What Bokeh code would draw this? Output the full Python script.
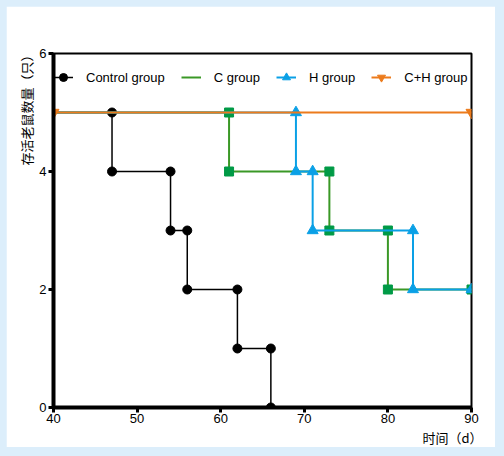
from bokeh.plotting import figure
from bokeh.models import Range1d, FixedTicker, Legend, LegendItem, Title
from bokeh.embed import file_html
from bokeh.resources import INLINE

# Data (survival counts over time, days)
control_t = [40, 47, 54, 56, 62, 66]
control_n = [5, 4, 3, 2, 1, 0]
c_t = [40, 61, 73, 80, 90]
c_n = [5, 4, 3, 2, 2]
h_t = [40, 69, 71, 83, 90]
h_n = [5, 4, 3, 2, 2]
ch_t = [40, 90]
ch_n = [5, 5]

x_ticks = [40, 50, 60, 70, 80, 90]
y_ticks = [0, 2, 4, 6]
labels = ["Control group", "C group", "H group", "C+H group"]
x_title = "时间（d）"
y_title = "存活老鼠数量（只）"


def corners(t, n):
    xs, ys = [], []
    for i in range(1, len(t)):
        if n[i] != n[i - 1]:
            xs += [t[i], t[i]]
            ys += [n[i - 1], n[i]]
        else:
            xs.append(t[i])
            ys.append(n[i])
    return xs, ys


p = figure(width=489, height=441, output_backend="svg", toolbar_location=None,
           x_range=Range1d(40, 90), y_range=Range1d(0, 6),
           min_border_left=47, min_border_right=24, min_border_top=47, min_border_bottom=40)
p.background_fill_color = "white"
p.border_fill_color = "white"
p.grid.visible = False
p.outline_line_color = "black"
p.outline_line_width = 2

for ax in (p.xaxis[0], p.yaxis[0]):
    ax.axis_line_width = 4
    ax.axis_line_color = "black"
    ax.major_tick_line_width = 3
    ax.major_tick_in = 0
    ax.major_tick_out = 5
    ax.minor_tick_line_color = None
    ax.major_label_text_font = "Liberation Sans"
    ax.major_label_text_font_size = "13px"
    ax.major_label_text_color = "black"
p.xaxis[0].ticker = FixedTicker(ticks=x_ticks)
p.yaxis[0].ticker = FixedTicker(ticks=y_ticks)
p.xaxis[0].major_label_standoff = 1
p.yaxis[0].major_label_standoff = 2

BLACK = "black"
GREEN_L = "#3a9826"
GREEN_M = "#009a46"
BLUE = "#0aa0e6"
ORANGE = "#ec7b1c"

# Control
l0 = p.step(control_t, control_n, mode="after", line_color=BLACK, line_width=1.5)
cx, cy = corners(control_t, control_n)
m0 = p.scatter(cx, cy, marker="circle", size=9, fill_color=BLACK, line_color=BLACK)

# C group
l1 = p.step(c_t, c_n, mode="after", line_color=GREEN_L, line_width=2)
gx, gy = corners(c_t, c_n)
m1 = p.scatter(gx, gy, marker="square", size=9, fill_color=GREEN_M, line_color=GREEN_M)

# H group
l2 = p.step(h_t, h_n, mode="after", line_color=BLUE, line_width=2)
hx, hy = corners(h_t, h_n)
m2 = p.scatter(hx, hy, marker="triangle", size=11, fill_color=BLUE, line_color=BLUE)

# C+H group
l3 = p.step(ch_t, ch_n, mode="after", line_color=ORANGE, line_width=2)
m3 = p.scatter(ch_t, ch_n, marker="inverted_triangle", size=11, fill_color=ORANGE, line_color=ORANGE)

legend = Legend(items=[
    LegendItem(label=labels[0], renderers=[l0, m0]),
    LegendItem(label=labels[1], renderers=[l1]),
    LegendItem(label=labels[2], renderers=[l2, m2]),
    LegendItem(label=labels[3], renderers=[l3, m3]),
], orientation="horizontal", location="top_left",
    margin=0, padding=9, spacing=16, glyph_width=20, glyph_height=48,
    label_height=48, label_standoff=13,
    label_text_font="Liberation Sans", label_text_font_size="13px",
    label_text_color="black",
    background_fill_alpha=0, border_line_color=None)
p.add_layout(legend, "center")

p.add_layout(Title(text=x_title, align="right", offset=-11, standoff=1,
                   text_font="Noto Sans CJK SC", text_font_size="13px",
                   text_font_style="normal", text_color="black"), "below")
p.add_layout(Title(text=y_title, align="right", offset=-5, standoff=1,
                   text_font="Noto Sans CJK SC", text_font_size="13px",
                   text_font_style="normal", text_color="black"), "left")

html = file_html(p, INLINE)
html = html.replace("</head>",
                    "<style>html {background:#dceefb !important; margin:0 !important; padding:0 !important;}"
                    " body {background:#dceefb !important; margin:0 !important; padding:6px !important;}"
                    "</style></head>", 1)
open("out.html", "w").write(html)
